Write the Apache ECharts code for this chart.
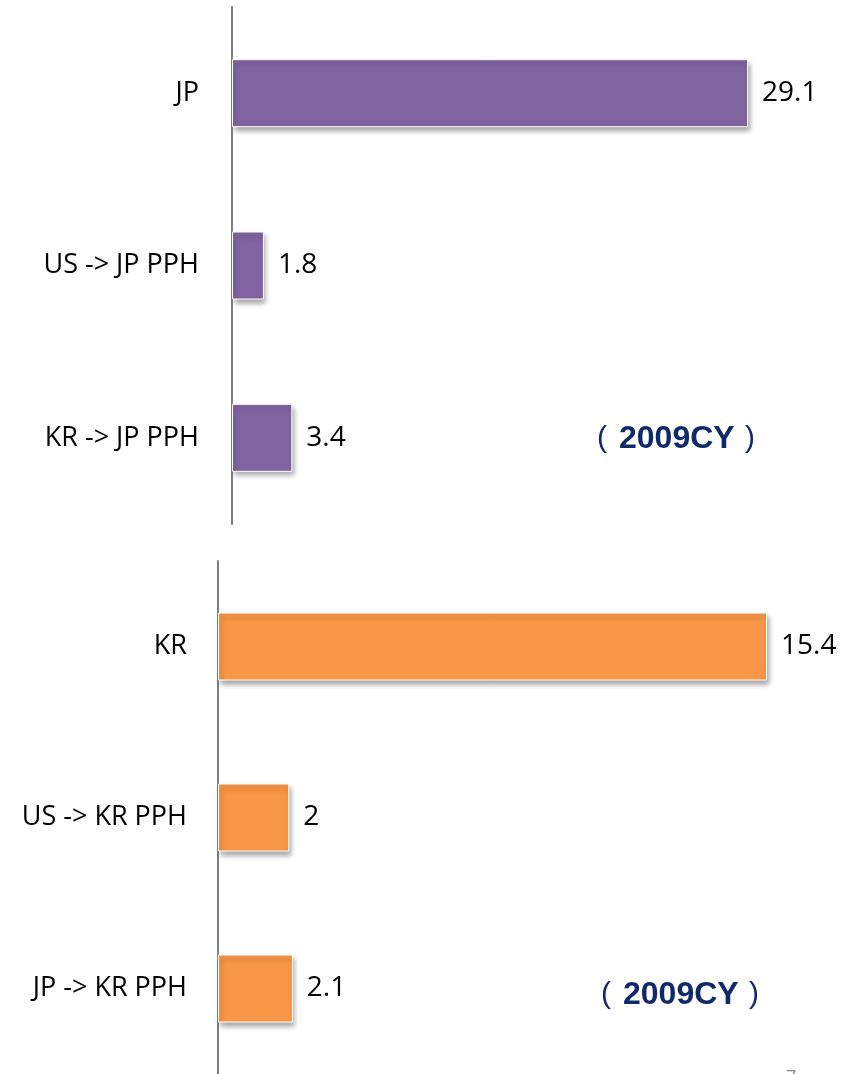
<!DOCTYPE html>
<html><head><meta charset="utf-8">
<script src="https://cdn.jsdelivr.net/npm/echarts@6/dist/echarts.min.js"></script>
<style>html,body{margin:0;padding:0;background:#fff}#c{width:852px;height:1074px}</style>
</head><body><div id="c"></div>
<script>
const topCategories = ['JP', 'US -> JP PPH', 'KR -> JP PPH'];
const topValues = [29.1, 1.8, 3.4];
const bottomCategories = ['KR', 'US -> KR PPH', 'JP -> KR PPH'];
const bottomValues = [15.4, 2, 2.1];
const yearLabel = '2009CY';

const chart = echarts.init(document.getElementById('c'), null, {renderer: 'canvas'});
const font = 'Open Sans, Liberation Sans, sans-serif';
const navy = '#0E2A6A';
function yAx(gi, cats, margin) {
  return {type: 'category', gridIndex: gi, data: cats, inverse: true,
    axisLine: {show: true, lineStyle: {color: '#7f7f7f', width: 2}},
    axisTick: {show: false},
    axisLabel: {fontSize: 27, color: '#000', fontFamily: font, margin: margin, padding: [5, 0, 0, 0]}};
}
function xAx(gi, max) {
  return {type: 'value', gridIndex: gi, min: 0, max: max, show: false, splitLine: {show: false}};
}
function ser(gi, vals, color) {
  return {type: 'bar', xAxisIndex: gi, yAxisIndex: gi, data: vals, barWidth: 68,
    itemStyle: {color: color, borderColor: '#fff', borderWidth: 1,
      shadowBlur: 5, shadowOffsetX: 2, shadowOffsetY: 4, shadowColor: 'rgba(0,0,0,0.35)'},
    label: {show: true, position: 'right', distance: 14, fontSize: 28, color: '#000', fontFamily: font, padding: [5, 0, 0, 0]},
    silent: true, animation: false};
}
function yearText(x, y) {
  return {type: 'group', left: x, top: y, children: [
    {type: 'text', x: 0, y: 0, style: {text: '(', fontSize: 30, fill: navy, fontFamily: 'Liberation Sans, sans-serif', verticalAlign: 'middle'}},
    {type: 'text', x: 22, y: 0, style: {text: yearLabel, fontSize: 32, fontWeight: 'bold', fill: navy, fontFamily: 'Liberation Sans, sans-serif', verticalAlign: 'middle'}},
    {type: 'text', x: 148, y: 0, style: {text: ')', fontSize: 30, fill: navy, fontFamily: 'Liberation Sans, sans-serif', verticalAlign: 'middle'}}
  ]};
}
chart.setOption({
  animation: false,
  grid: [
    {left: 232, top: 7, width: 532, height: 517},
    {left: 218, top: 561, width: 570.4, height: 516}
  ],
  xAxis: [xAx(0, 30), xAx(1, 16)],
  yAxis: [yAx(0, topCategories, 33), yAx(1, bottomCategories, 31)],
  series: [ser(0, topValues, '#8064A2'), ser(1, bottomValues, '#F79646')],
  graphic: [
    yearText(597, 423),
    yearText(601, 979),
    {type: 'text', left: 786, top: 1069, style: {text: '7', fontSize: 18, fill: '#888', fontFamily: font}}
  ]
});
</script></body></html>
